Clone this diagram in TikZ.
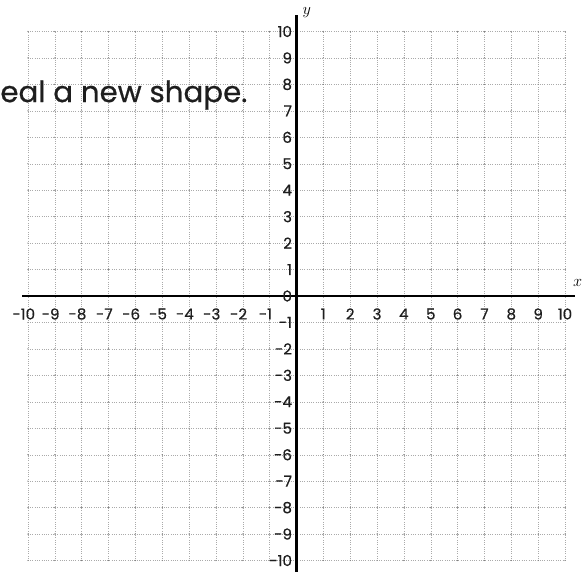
\documentclass[tikz,border=0pt]{standalone}
\usepackage{fontspec}
\setmainfont{Poppins}
\newfontfamily\inkfont{Poppins}[FakeBold=0.6]
\usepackage{tikz}
\usetikzlibrary{positioning}
\definecolor{gridgray}{RGB}{170, 170, 170}
\definecolor{inkgray}{RGB}{30, 30, 30}

\begin{document}
\begin{tikzpicture}[
    x=1cm, y=0.985cm,
    gridline/.style={draw=gridgray, dotted, line width=0.4pt},
    axisline/.style={draw=black, line width=2.8pt},
    ticklabel/.style={inner sep=0pt, text=inkgray, font=\inkfont\fontsize{16}{16}\selectfont},
    axislabel/.style={inner sep=0pt, font=\fontsize{17}{17}\selectfont}
]
\useasboundingbox (-11.04,-10.43) rectangle (10.67,11.19);

% grid
\foreach \i in {-10,...,10} {
    \draw[gridline] (\i,-10) -- (\i,10);
    \draw[gridline] (-10,\i) -- (10,\i);
}
\foreach \i in {-10,...,10}
    \foreach \j in {-10,...,10}
        \fill[gray] (\i,\j) circle (0.7pt);

% caption
\node[anchor=base east, inner sep=0pt, text=inkgray, font=\inkfont\fontsize{31}{31}\selectfont] (caption) at (-1.82,7.33) {eal a new shape.};

% axes
\coordinate (xstart) at (-10.22,0);
\coordinate (xend) at (10.37,0);
\coordinate (ystart) at (0,-10.5);
\coordinate (yend) at (0,10.62);
\draw[axisline] (xstart) -- (xend);
\draw[axisline] (ystart) -- (yend);
\node[axislabel, anchor=east] (xname) at (10.65,0.5) {$x$};
\node[axislabel, anchor=west] (yname) at (0.22,10.7) {$y$};

% numbers
\foreach \i in {1,...,10} {
    \node[ticklabel] (xpos\i) at (\i,-0.68) {\i};
    \node[ticklabel] (xneg\i) at (-\i,-0.68) {\llap{-}\i};
    \node[ticklabel, anchor=east] (ypos\i) at (-0.16,\i) {\i};
    \node[ticklabel, anchor=east] (yneg\i) at (-0.16,-\i) {-\i};
}
\node[ticklabel, anchor=east] (yzero) at (-0.16,0) {0};
\end{tikzpicture}
\end{document}
